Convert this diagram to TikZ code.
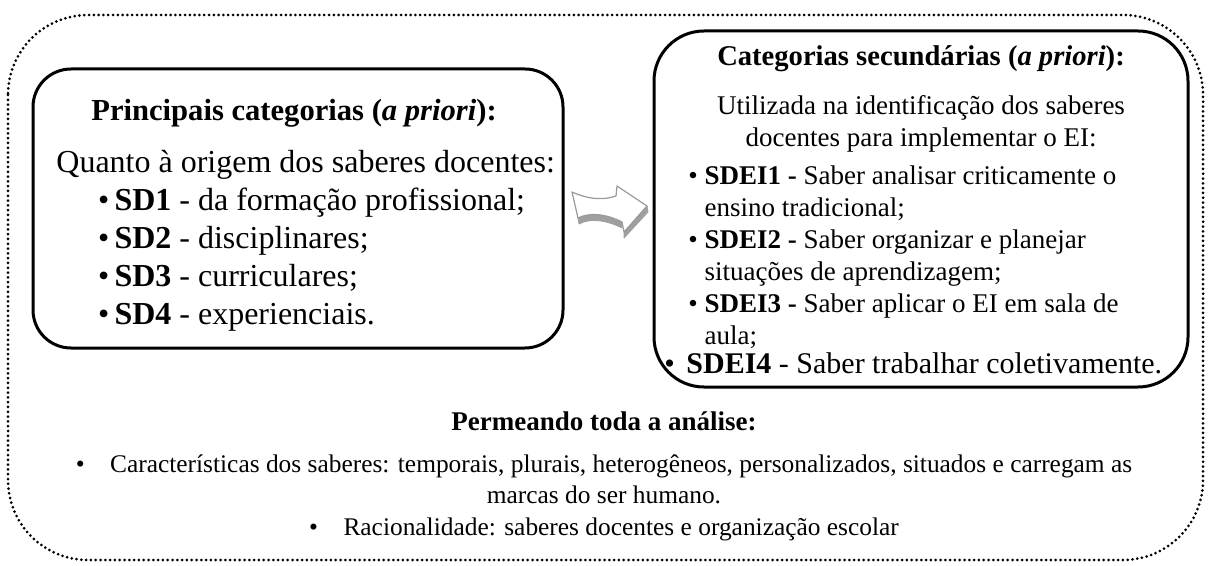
\documentclass[tikz,border=0pt]{standalone}
\usepackage{fontspec}
\setmainfont{Liberation Serif}

\begin{document}
\begin{tikzpicture}
[x=0.5pt,y=-0.5pt,%
  box/.style={draw,line width=1.5pt,inner sep=0pt},%
  border/.style={line width=1.5pt,dash pattern=on 0pt off 2.4pt,line cap=round,rounded corners=40pt},%
  txt/.style={inner sep=0pt},%
  arrowtop/.style={fill=white,draw=gray!80,line width=0.6pt,line join=round},%
  arrowside/.style={fill=gray!75,draw=gray!75,line width=0.4pt,line join=round}]
\useasboundingbox (0,0) rectangle (1208,566);
\draw[border] (8,15) rectangle (1203,560);
\node[box,rounded corners=19pt,minimum width=265pt,minimum height=139.5pt] (main) at (298,208.5) {};
\node[box,rounded corners=25pt,minimum width=267pt,minimum height=178pt] (second) at (921,209) {};
\node[txt,anchor=north,font=\fontsize{15.3}{18}\selectfont\bfseries] (maintitle) at (294,99)
  {Principais categorias (\textit{a priori}):};
\node[txt,align=left,anchor=north west,font=\fontsize{16}{19}\selectfont] (mainbody) at (56,150)
  {Quanto à origem dos saberes docentes:\\
   \hspace*{1.3em}•\,\textbf{SD1} - da formação profissional;\\
   \hspace*{1.3em}•\,\textbf{SD2} - disciplinares;\\
   \hspace*{1.3em}•\,\textbf{SD3} - curriculares;\\
   \hspace*{1.3em}•\,\textbf{SD4} - experienciais.};
\node[txt,anchor=north,font=\fontsize{14.3}{17}\selectfont\bfseries] (secondtitle) at (921,45)
  {Categorias secundárias (\textit{a priori}):};
\node[txt,align=center,anchor=north,font=\fontsize{13.5}{16}\selectfont] (secondintro) at (921,95)
  {Utilizada na identificação dos saberes\\docentes para implementar o EI:};
\node[txt,align=left,anchor=north west,font=\fontsize{13.5}{16}\selectfont] (secondbody) at (688,165)
  {• \textbf{SDEI1 -} Saber analisar criticamente o\\
   \phantom{• }ensino tradicional;\\
   • \textbf{SDEI2 -} Saber organizar e planejar\\
   \phantom{• }situações de aprendizagem;\\
   • \textbf{SDEI3 -} Saber aplicar o EI em sala de\\
   \phantom{• }aula;};
\node[txt,anchor=base west,font=\fontsize{15}{16}\selectfont] (lastbullet) at (664,373) {•};
\node[txt,anchor=base west,font=\fontsize{15}{16}\selectfont] (lastitem) at (686,373)
  {\textbf{SDEI4} - Saber trabalhar coletivamente.};
\node[txt,anchor=north,font=\fontsize{13.5}{16}\selectfont\bfseries] (common) at (604,411)
  {Permeando toda a análise:};
\node[txt,align=center,anchor=north,font=\fontsize{12.7}{15.75}\selectfont] (commonbody) at (604,454)
  {•\hspace{1em}Características dos saberes: temporais, plurais, heterogêneos, personalizados, situados e carregam as\\
   marcas do ser humano.\\
   •\hspace{1em}Racionalidade: saberes docentes e organização escolar};
\fill[arrowside] (578,218) .. controls (590,212) and (606,214) .. (622,222) -- (622,228)
  .. controls (606,220) and (590,218) .. (579,224) -- cycle;
\fill[arrowside] (647,206) -- (624,232) -- (624,238) -- (648,212) -- cycle;
\draw[arrowtop] (572,192) .. controls (590,200) and (604,200) .. (616,196) -- (617,186)
  -- (647,206) -- (624,232) -- (622,222) .. controls (606,214) and (590,212) .. (578,218) -- cycle;
\end{tikzpicture}
\end{document}
